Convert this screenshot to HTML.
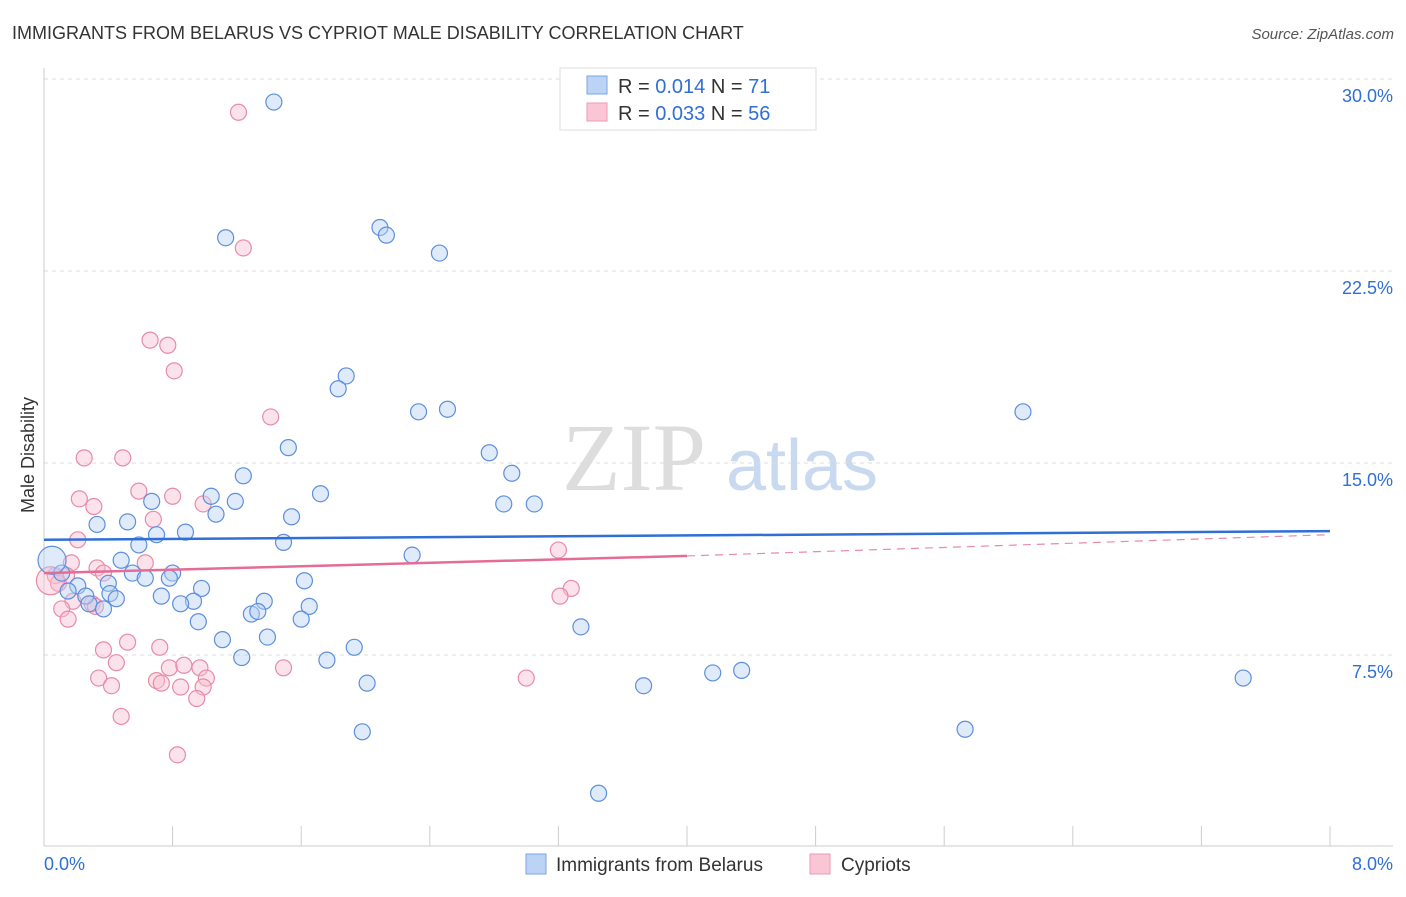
<!DOCTYPE html>
<html><head><meta charset="utf-8"><style>
body{margin:0;background:#fff;font-family:"Liberation Sans",sans-serif}
</style></head><body>
<svg id="chart" width="1406" height="892" xmlns="http://www.w3.org/2000/svg">
<text x="12" y="39" font-size="18" fill="#333">IMMIGRANTS FROM BELARUS VS CYPRIOT MALE DISABILITY CORRELATION CHART</text>
<text x="1394" y="39" font-size="15" fill="#555" font-style="italic" text-anchor="end">Source: ZipAtlas.com</text>
<g>
<text x="634" y="490" font-size="96" font-family="Liberation Serif,serif" fill="#ddd" text-anchor="middle">ZIP</text>
<text x="802" y="490" font-size="72" fill="#c9daf0" text-anchor="middle">atlas</text>
</g>
<g id="grid"></g><g id="axes"></g><g id="pts"></g><g id="trend"></g>
<text transform="translate(34,455) rotate(-90)" font-size="18" fill="#333" text-anchor="middle">Male Disability</text>
<g>
<rect x="560" y="68" width="256" height="62" fill="#fff" stroke="#ddd"/>
<rect x="587" y="76" width="20" height="18" fill="#bcd3f5" stroke="#7aa6e6"/>
<rect x="587" y="103" width="20" height="18" fill="#fac6d6" stroke="#ee9ab3"/>
<text x="618" y="93" font-size="20" fill="#333">R = <tspan fill="#2f6fd6">0.014</tspan>   N = <tspan fill="#2f6fd6"> 71</tspan></text>
<text x="618" y="120" font-size="20" fill="#333">R = <tspan fill="#2f6fd6">0.033</tspan>   N = <tspan fill="#2f6fd6"> 56</tspan></text>
</g>
<g>
<rect x="526" y="854" width="20" height="20" fill="#bcd3f5" stroke="#7aa6e6"/>
<text x="556" y="871" font-size="19" fill="#333">Immigrants from Belarus</text>
<rect x="810" y="854" width="20" height="20" fill="#fac6d6" stroke="#ee9ab3"/>
<text x="841" y="871" font-size="19" fill="#333">Cypriots</text>
</g>
</svg>
<script>
const yTicks=[7.5,15,22.5,30];
const yTickLabels=["7.5%","15.0%","22.5%","30.0%"];
const xTickLabels=["0.0%","8.0%"];
const blueX=[1.43,1.13,2.09,2.13,2.46,1.88,1.83,2.33,2.51,6.09,1.52,2.77,2.91,1.24,1.72,1.04,0.67,1.19,2.86,3.05,1.07,1.54,0.52,0.33,0.88,0.70,0.59,1.49,2.29,0.48,0.55,0.80,0.63,0.78,0.11,1.62,0.21,0.40,0.98,0.15,0.26,0.41,0.45,0.73,0.93,0.85,1.37,0.28,0.37,1.65,1.29,1.33,0.96,1.60,3.34,1.11,1.39,1.93,1.23,1.76,4.16,4.34,2.01,3.73,7.46,1.98,5.73,3.45,0.05];
const blueY=[29.1,23.8,24.2,23.9,23.2,18.4,17.9,17.0,17.1,17.0,15.6,15.4,14.6,14.5,13.8,13.7,13.5,13.5,13.4,13.4,13.0,12.9,12.7,12.6,12.3,12.2,11.8,11.9,11.4,11.2,10.7,10.7,10.5,10.5,10.7,10.4,10.2,10.3,10.1,10.0,9.8,9.9,9.7,9.8,9.6,9.5,9.6,9.5,9.3,9.4,9.1,9.2,8.8,8.9,8.6,8.1,8.2,7.8,7.4,7.3,6.8,6.9,6.4,6.3,6.6,4.5,4.6,2.1,11.2];
const pinkX=[1.21,1.24,0.66,0.77,0.81,1.41,0.25,0.49,0.59,0.22,0.80,0.31,0.99,0.68,0.21,3.20,0.63,0.17,0.33,0.37,0.07,0.14,0.09,3.28,3.21,0.18,0.30,0.11,0.32,0.15,0.52,0.72,0.37,0.45,0.78,0.87,0.97,1.49,0.34,1.01,3.00,0.70,0.73,0.42,0.85,0.99,0.95,0.48,0.83,0.04];
const pinkY=[28.7,23.4,19.8,19.6,18.6,16.8,15.2,15.2,13.9,13.6,13.7,13.3,13.4,12.8,12.0,11.6,11.1,11.1,10.9,10.7,10.6,10.6,10.3,10.1,9.8,9.6,9.5,9.3,9.4,8.9,8.0,7.8,7.7,7.2,7.0,7.1,7.0,7.0,6.6,6.6,6.6,6.5,6.4,6.3,6.25,6.25,5.8,5.1,3.6,10.4];
const blueTrend=[12.0,12.34];
const pinkTrend=[10.7,11.37,12.2];
const NS="http://www.w3.org/2000/svg";
const X=v=>44+v/8*1286, Y=v=>847-v*25.6;
function mk(t,a,p){const e=document.createElementNS(NS,t);for(const k in a)e.setAttribute(k,a[k]);document.getElementById(p).appendChild(e);return e;}
yTicks.forEach((t,i)=>{
 const g=mk('line',{x1:44,x2:1393,y1:Y(t),y2:Y(t),stroke:'#ddd','stroke-dasharray':'4,4'},'grid');
 
 
 const l=mk('text',{x:1393,y:Y(t)+23,'font-size':18,fill:'#2f6fd6','text-anchor':'end'},'axes');
 l.textContent=yTickLabels[i];
 
 
});
const ax=mk('line',{x1:44,x2:1393,y1:846,y2:846,stroke:'#ccc'},'axes');


const ay=mk('line',{x1:44,x2:44,y1:68,y2:846,stroke:'#ccc'},'axes');


for(let i=0;i<=10;i++){const t=mk('line',{x1:X(i*0.8),x2:X(i*0.8),y1:826,y2:846,stroke:'#ccc'},'axes');
 
 }
const xl0=mk('text',{x:44,y:870,'font-size':18,fill:'#2f6fd6'},'axes');xl0.textContent=xTickLabels[0];


const xl1=mk('text',{x:1393,y:870,'font-size':18,fill:'#2f6fd6','text-anchor':'end'},'axes');xl1.textContent=xTickLabels[1];


function pts(xs,ys,fill,stroke,name){xs.forEach((v,i)=>{const big=i===xs.length-1;
 const c=mk('circle',{cx:X(v),cy:Y(ys[i]),r:big?14:8,fill:fill,'fill-opacity':0.45,stroke:stroke,'stroke-width':1.2},'pts');
 
 });}
pts(pinkX,pinkY,'#f8bfd0','#e98aa8','cypriots-point');
pts(blueX,blueY,'#b9d0f3','#5d8fdc','belarus-point');
const bt=mk('line',{x1:X(0),x2:X(8),y1:Y(blueTrend[0]),y2:Y(blueTrend[1]),stroke:'#2f6fd6','stroke-width':2.5},'trend');


const pt=mk('line',{x1:X(0),x2:X(4),y1:Y(pinkTrend[0]),y2:Y(pinkTrend[1]),stroke:'#e46c96','stroke-width':2.5},'trend');


const pd=mk('line',{x1:X(4),x2:X(8),y1:Y(pinkTrend[1]),y2:Y(pinkTrend[2]),stroke:'#e98aa8','stroke-width':1.2,'stroke-dasharray':'8,6'},'trend');


</script>
</body></html>
